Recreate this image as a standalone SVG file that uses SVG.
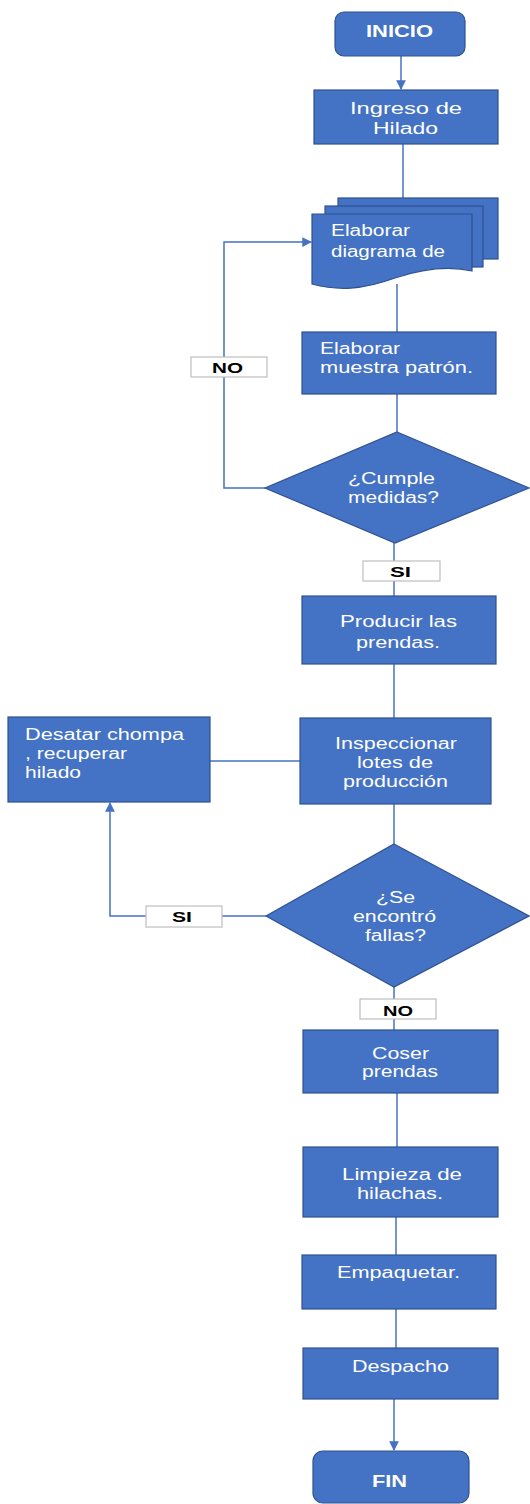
<svg xmlns="http://www.w3.org/2000/svg" width="530" height="1504" viewBox="0 0 530 1504">
<style>
.n{fill:#4472C4;stroke:#2F528F;stroke-width:1.2}
.t{font-family:"Liberation Sans",Arial,sans-serif;font-size:16px;fill:#fff}
.b{font-weight:bold}
.c{fill:none;stroke:#4472C4;stroke-width:1.5}
.lb{fill:#fff;stroke:#BFBFBF;stroke-width:1.2}
.lt{font-family:"Liberation Sans",Arial,sans-serif;font-size:15px;font-weight:bold;fill:#000}
</style>
<defs>
<marker id="ah" viewBox="0 0 10 10" refX="9" refY="5" markerWidth="6.5" markerHeight="6.5" markerUnits="strokeWidth" orient="auto">
<path d="M0,0L10,5L0,10Z" fill="#4472C4"/>
</marker>
</defs>
<rect width="530" height="1504" fill="#fff"/>
<g id="connectors">
<line class="c" x1="401" y1="56" x2="401" y2="89" marker-end="url(#ah)"/>
<line class="c" x1="403" y1="144" x2="403" y2="198"/>
<line class="c" x1="397" y1="284" x2="397" y2="332"/>
<line class="c" x1="397" y1="394" x2="397" y2="432"/>
<polyline class="c" points="265,488 224,488 224,242 311,242" marker-end="url(#ah)"/>
<line class="c" x1="394" y1="543" x2="394" y2="596"/>
<line class="c" x1="394" y1="664" x2="394" y2="718"/>
<line class="c" x1="300" y1="761" x2="210" y2="761"/>
<line class="c" x1="394" y1="804" x2="394" y2="844"/>
<polyline class="c" points="268,916 110,916 110,803" marker-end="url(#ah)"/>
<line class="c" x1="394" y1="987" x2="394" y2="1030"/>
<line class="c" x1="397" y1="1093" x2="397" y2="1147"/>
<line class="c" x1="396" y1="1217" x2="396" y2="1255"/>
<line class="c" x1="396" y1="1309" x2="396" y2="1348"/>
<line class="c" x1="394" y1="1399" x2="394" y2="1450" marker-end="url(#ah)"/>
</g>
<g id="inicio">
<rect class="n" x="335" y="12" width="130" height="44" rx="9"/>
<text class="t b" x="366" y="37" textLength="67" lengthAdjust="spacingAndGlyphs">INICIO</text>
</g>
<g id="ingreso">
<rect class="n" x="314" y="90" width="184" height="54"/>
<text class="t" x="350" y="114" textLength="112" lengthAdjust="spacingAndGlyphs">Ingreso de</text>
<text class="t" x="373" y="134" textLength="65" lengthAdjust="spacingAndGlyphs">Hilado</text>
</g>
<g id="diagrama">
<rect class="n" x="338" y="198" width="160" height="61"/>
<rect class="n" x="325" y="206" width="158" height="61"/>
<path class="n" d="M312,214H472V271C450,266 425,268 395,278C362,290 338,291 312,284Z"/>
<text class="t" x="331" y="236" textLength="79" lengthAdjust="spacingAndGlyphs">Elaborar</text>
<text class="t" x="331" y="257" textLength="114" lengthAdjust="spacingAndGlyphs">diagrama de</text>
</g>
<g id="muestra">
<rect class="n" x="302" y="332" width="194" height="62"/>
<text class="t" x="320" y="354" textLength="80" lengthAdjust="spacingAndGlyphs">Elaborar</text>
<text class="t" x="320" y="373" textLength="153" lengthAdjust="spacingAndGlyphs">muestra patrón.</text>
</g>
<g id="cumple">
<polygon class="n" points="397,432 529,488 395,543 265,488"/>
<text class="t" x="348" y="484" textLength="87" lengthAdjust="spacingAndGlyphs">¿Cumple</text>
<text class="t" x="348" y="503" textLength="91" lengthAdjust="spacingAndGlyphs">medidas?</text>
</g>
<g id="label-no1">
<rect class="lb" x="191" y="357" width="76" height="20"/>
<text class="lt" x="212" y="373" textLength="31" lengthAdjust="spacingAndGlyphs">NO</text>
</g>
<g id="label-si1">
<rect class="lb" x="363" y="561" width="77" height="20"/>
<text class="lt" x="390" y="577" textLength="21" lengthAdjust="spacingAndGlyphs">SI</text>
</g>
<g id="producir">
<rect class="n" x="302" y="596" width="194" height="68"/>
<text class="t" x="340" y="627" textLength="117" lengthAdjust="spacingAndGlyphs">Producir las</text>
<text class="t" x="356" y="648" textLength="84" lengthAdjust="spacingAndGlyphs">prendas.</text>
</g>
<g id="inspeccionar">
<rect class="n" x="300" y="718" width="191" height="86"/>
<text class="t" x="335" y="749" textLength="122" lengthAdjust="spacingAndGlyphs">Inspeccionar</text>
<text class="t" x="357" y="768" textLength="76" lengthAdjust="spacingAndGlyphs">lotes de</text>
<text class="t" x="343" y="787" textLength="105" lengthAdjust="spacingAndGlyphs">producción</text>
</g>
<g id="desatar">
<rect class="n" x="8" y="717" width="202" height="85"/>
<text class="t" x="25" y="740" textLength="159" lengthAdjust="spacingAndGlyphs">Desatar chompa</text>
<text class="t" x="25" y="759" textLength="102" lengthAdjust="spacingAndGlyphs">, recuperar</text>
<text class="t" x="25" y="778" textLength="56" lengthAdjust="spacingAndGlyphs">hilado</text>
</g>
<g id="fallas">
<polygon class="n" points="394,844 529,916 394,987 266,916"/>
<text class="t" x="376" y="903" textLength="39" lengthAdjust="spacingAndGlyphs">¿Se</text>
<text class="t" x="353" y="922" textLength="83" lengthAdjust="spacingAndGlyphs">encontró</text>
<text class="t" x="365" y="941" textLength="61" lengthAdjust="spacingAndGlyphs">fallas?</text>
</g>
<g id="label-si2">
<rect class="lb" x="146" y="906" width="76" height="21"/>
<text class="lt" x="172" y="922" textLength="20" lengthAdjust="spacingAndGlyphs">SI</text>
</g>
<g id="label-no2">
<rect class="lb" x="360" y="999" width="76" height="20"/>
<text class="lt" x="383" y="1016" textLength="30" lengthAdjust="spacingAndGlyphs">NO</text>
</g>
<g id="coser">
<rect class="n" x="303" y="1030" width="195" height="63"/>
<text class="t" x="372" y="1059" textLength="57" lengthAdjust="spacingAndGlyphs">Coser</text>
<text class="t" x="362" y="1077" textLength="76" lengthAdjust="spacingAndGlyphs">prendas</text>
</g>
<g id="limpieza">
<rect class="n" x="303" y="1147" width="195" height="70"/>
<text class="t" x="342" y="1180" textLength="120" lengthAdjust="spacingAndGlyphs">Limpieza de</text>
<text class="t" x="357" y="1199" textLength="86" lengthAdjust="spacingAndGlyphs">hilachas.</text>
</g>
<g id="empaquetar">
<rect class="n" x="302" y="1255" width="194" height="54"/>
<text class="t" x="337" y="1278" textLength="123" lengthAdjust="spacingAndGlyphs">Empaquetar.</text>
</g>
<g id="despacho">
<rect class="n" x="303" y="1348" width="195" height="51"/>
<text class="t" x="352" y="1372" textLength="97" lengthAdjust="spacingAndGlyphs">Despacho</text>
</g>
<g id="fin">
<rect class="n" x="313" y="1451" width="156" height="52" rx="10"/>
<text class="t b" x="372" y="1487" textLength="35" lengthAdjust="spacingAndGlyphs">FIN</text>
</g>
</svg>
